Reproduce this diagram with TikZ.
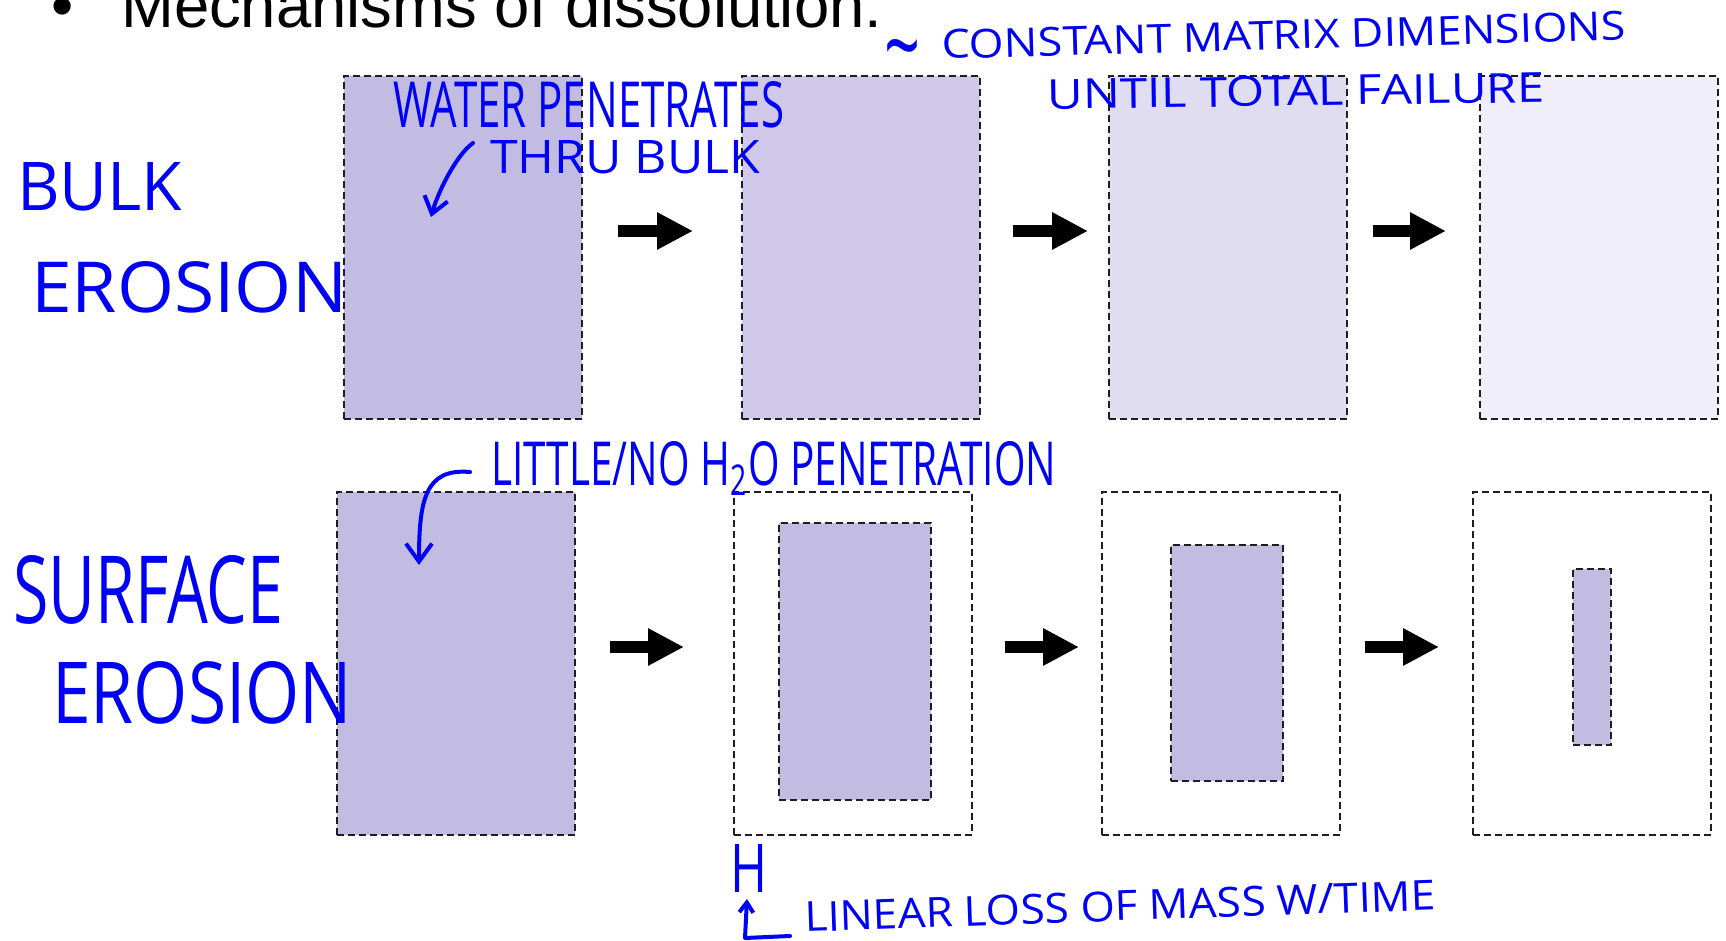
\documentclass[tikz,border=0pt]{standalone}
\usepackage{fontspec}
\setmainfont{Liberation Sans}
\newfontfamily\penfont{Open Sans}
\usetikzlibrary{arrows.meta}
\definecolor{penblue}{RGB}{0,0,245}
\definecolor{fillA}{RGB}{195,188,226}
\definecolor{fillB}{RGB}{207,200,232}
\definecolor{fillC}{RGB}{224,221,241}
\definecolor{fillD}{RGB}{240,238,249}
\definecolor{dashgray}{RGB}{30,30,30}
\newcommand\handw[3]{\resizebox{#1pt}{#2pt}{\penfont #3}}
\begin{document}
\begin{tikzpicture}[x=1pt,y=-1pt,
  box/.style={draw=dashgray, line width=2pt, dash pattern=on 7pt off 4pt, inner sep=0pt,
    minimum width=238pt, minimum height=343pt, anchor=north west},
  corebox/.style={draw=dashgray, line width=2pt, dash pattern=on 7pt off 4pt, inner sep=0pt,
    anchor=north west, fill=fillA},
  bigarrow/.style={line width=12pt, -{Triangle[length=36pt,width=35pt]}},
  pen/.style={text=penblue, inner sep=0pt, anchor=south west},
  penline/.style={draw=penblue, line width=4pt, line cap=round, line join=round},
  titlefont/.style={inner sep=0pt, font=\fontsize{63.4}{70}\selectfont}]
\useasboundingbox (0,0) rectangle (1726,941);
\clip (0,0) rectangle (1726,941);

% title
\node[titlefont, anchor=base] (bullet) at (63,28) {\textbullet};
\node[titlefont, anchor=base west] (title) at (121,28) {Mechanisms of dissolution:};

% bulk erosion row
\node[box, fill=fillA] (b1) at (343,75) {};
\node[box, fill=fillB] (b2) at (741,75) {};
\node[box, fill=fillC] (b3) at (1108,75) {};
\node[box, fill=fillD] (b4) at (1479,75) {};

% surface erosion row
\node[box, fill=fillA] (s1) at (336,491) {};
\node[box] (s2) at (733,491) {};
\node[box] (s3) at (1101,491) {};
\node[box] (s4) at (1472,491) {};
\node[corebox, minimum width=152pt, minimum height=277pt] (c2) at (778,522) {};
\node[corebox, minimum width=112pt, minimum height=236pt] (c3) at (1170,544) {};
\node[corebox, minimum width=38pt, minimum height=176pt] (c4) at (1572,568) {};

% arrows
\coordinate (a1s) at (618,231); \coordinate (a1e) at (693,231);
\coordinate (a2s) at (1013,231); \coordinate (a2e) at (1088,231);
\coordinate (a3s) at (1373,231); \coordinate (a3e) at (1446,231);
\coordinate (a4s) at (610,647); \coordinate (a4e) at (684,647);
\coordinate (a5s) at (1005,647); \coordinate (a5e) at (1079,647);
\coordinate (a6s) at (1365,647); \coordinate (a6e) at (1439,647);
\draw[bigarrow] (a1s) -- (a1e);
\draw[bigarrow] (a2s) -- (a2e);
\draw[bigarrow] (a3s) -- (a3e);
\draw[bigarrow] (a4s) -- (a4e);
\draw[bigarrow] (a5s) -- (a5e);
\draw[bigarrow] (a6s) -- (a6e);

% handwritten labels
\node[pen] (bulk) at (17,211) {\handw{165}{48}{BULK}};
\node[pen] (ero1) at (31,313) {\handw{316}{51}{EROSION}};
\node[pen] (surf) at (13,625) {\handw{270}{68}{SURFACE}};
\node[pen] (ero2) at (52,725) {\handw{300}{62}{EROSION}};

\node[pen] (water) at (393,128) {\handw{391}{46}{WATER PENETRATES}};
\node[pen] (thru) at (490,174) {\handw{270}{33}{THRU BULK}};

\node[pen] (tilde) at (884,82) {\handw{36}{42}{\textasciitilde}};
\node[text=penblue, inner sep=0pt, rotate=1.6] (const) at (1284,35) {\handw{684}{29}{CONSTANT MATRIX DIMENSIONS}};
\node[text=penblue, inner sep=0pt, rotate=0.8] (until) at (1296,91) {\handw{497}{30}{UNTIL TOTAL FAILURE}};

\node[pen] (little) at (491,496) {\handw{565}{44}{LITTLE/NO H\textsubscript{2}O PENETRATION}};

\node[pen] (hsym) at (730,893) {\handw{37}{48}{H}};
\node[text=penblue, inner sep=0pt, rotate=2] (linear) at (1120,906) {\handw{631}{30}{LINEAR LOSS OF MASS W/TIME}};

% hand-drawn arrows
\coordinate (p1) at (473,143); \coordinate (p2) at (431,217);
\draw[penline, -{Straight Barb[length=16pt,width=24pt]}] (p1) .. controls (455,156) and (437,195) .. (p2);
\coordinate (q1) at (470,472); \coordinate (q2) at (419,565);
\draw[penline, -{Straight Barb[length=18pt,width=26pt]}] (q1) .. controls (425,468) and (419,500) .. (q2);
\coordinate (r1) at (790,936); \coordinate (r2) at (747,899);
\draw[penline, -{Straight Barb[length=10pt,width=14pt]}] (r1) -- (745,938) -- (r2);
\end{tikzpicture}
\end{document}
